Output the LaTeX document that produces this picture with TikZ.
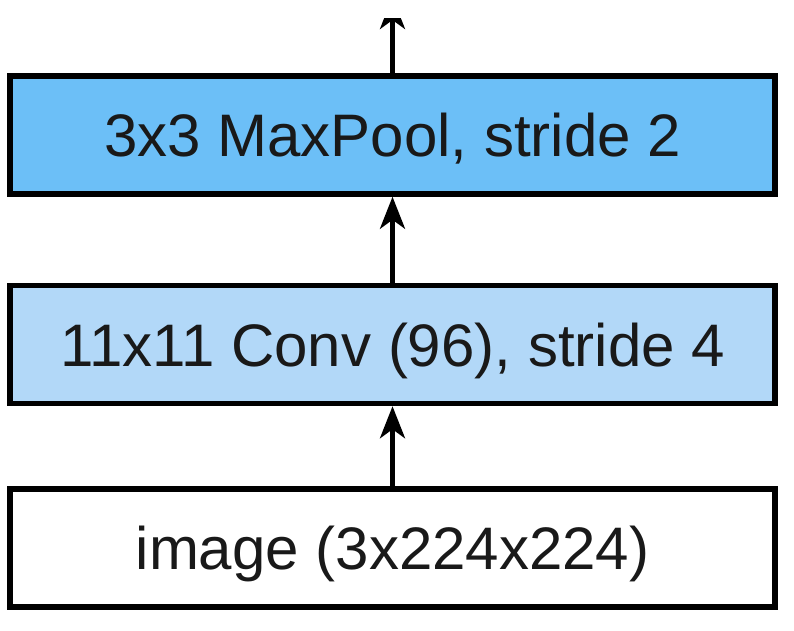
\documentclass[tikz,border=0pt]{standalone}
\usepackage{fontspec}
\setmainfont{Liberation Sans}
\usetikzlibrary{arrows.meta}
\definecolor{poolblue}{RGB}{108,191,247}
\definecolor{convblue}{RGB}{178,216,248}
\tikzset{
  layer/.style={draw=black, line width=5.5pt, minimum width=765pt, minimum height=118pt,
    inner sep=0pt, text height=43pt, text depth=0pt,
    font=\fontsize{60}{70}\selectfont, text=black!90},
  flow/.style={line width=4.5pt, -{Stealth[length=32pt,width=25pt,inset=9pt]}}
}
\begin{document}
\begin{tikzpicture}[x=1pt,y=-1pt]
\useasboundingbox (0,0) rectangle (794,630);
\fill[white] (0,0) rectangle (794,630);
\node[layer, fill=white] (img) at (392.5,548) {image (3x224x224)};
\node[layer, fill=convblue] (conv) at (392.5,344.5) {11x11 Conv (96), stride 4};
\node[layer, fill=poolblue] (pool) at (392.5,135) {3x3 MaxPool, stride 2};
\coordinate (out) at (392.5,-3);
\draw[flow] (img.north) -- (conv.south);
\draw[flow] (conv.north) -- (pool.south);
\begin{scope}
\clip (0,18) rectangle (794,630);
\draw[flow] (pool.north) -- (out);
\end{scope}
\end{tikzpicture}
\end{document}
